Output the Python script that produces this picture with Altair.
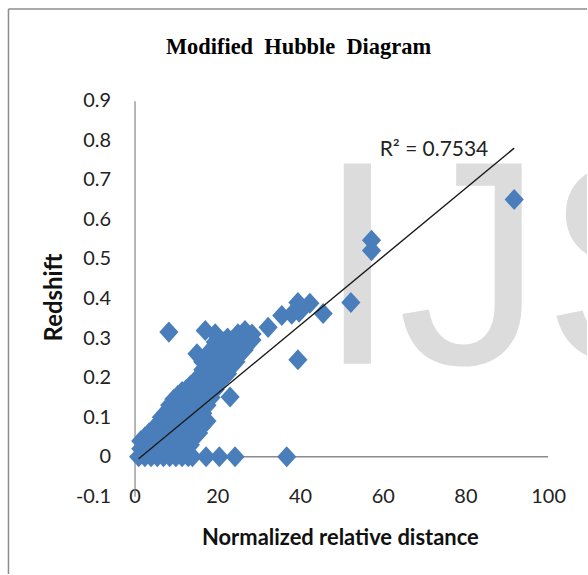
import altair as alt
import pandas as pd

# ---------------- data ----------------
chart_title = "Modified\u00a0 Hubble\u00a0 Diagram"
x_title = "Normalized relative distance"
y_title = "Redshift"
r2_label = "R\u00b2 = 0.7534"
watermark = "IJS"

# points lying on redshift = 0
zero_dist = [1.0, 2.5, 4.0, 5.5, 7.0, 8.5, 10.0, 11.5, 13.0, 14.0, 17.3, 20.5, 24.3, 36.8]
zero_z = [0.0] * len(zero_dist)

# dense cluster near the origin
cluster_dist = [
    1.5, 1.5,
    2.5, 2.5, 2.5,
    3.5, 3.5, 3.5,
    4.5, 4.5, 4.5,
    5.5, 5.5, 5.5,
    6.5, 6.5, 6.5, 6.5,
    7.5, 7.5, 7.5, 7.5,
    8.5, 8.5, 8.5, 8.5, 8.5,
    9.5, 9.5, 9.5, 9.5, 9.5,
    10.5, 10.5, 10.5, 10.5, 10.5, 10.5,
    11.5, 11.5, 11.5, 11.5, 11.5, 11.5,
    12.5, 12.5, 12.5, 12.5, 12.5, 12.5,
    13.5, 13.5, 13.5, 13.5, 13.5, 13.5,
    14.5, 14.5, 14.5, 14.5, 14.5, 14.5,
    15.5, 15.5, 15.5, 15.5, 15.5, 15.5,
    16.5, 16.5, 16.5, 16.5, 16.5, 16.5, 16.5,
    17.5, 17.5, 17.5, 17.5, 17.5, 17.5,
    18.5, 18.5, 18.5, 18.5, 18.5,
    19.5, 19.5, 19.5, 19.5, 19.5,
    20.5, 20.5, 20.5, 20.5,
    21.5, 21.5, 21.5, 21.5,
    22.5, 22.5, 22.5, 22.5,
    23.5, 23.5, 23.5,
    24.5, 24.5, 24.5,
    25.5, 25.5,
    26.5, 26.5,
]
cluster_z = [
    0.02, 0.04,
    0.02, 0.04, 0.05,
    0.015, 0.035, 0.06,
    0.02, 0.045, 0.07,
    0.025, 0.05, 0.08,
    0.02, 0.05, 0.075, 0.10,
    0.03, 0.06, 0.09, 0.11,
    0.025, 0.055, 0.085, 0.115, 0.13,
    0.03, 0.06, 0.09, 0.12, 0.145,
    0.025, 0.055, 0.085, 0.115, 0.145, 0.155,
    0.03, 0.06, 0.09, 0.12, 0.15, 0.165,
    0.02, 0.05, 0.08, 0.11, 0.14, 0.17,
    0.03, 0.06, 0.09, 0.12, 0.15, 0.18,
    0.05, 0.08, 0.11, 0.14, 0.17, 0.19,
    0.06, 0.09, 0.12, 0.15, 0.18, 0.20,
    0.08, 0.11, 0.14, 0.17, 0.20, 0.22, 0.24,
    0.09, 0.13, 0.16, 0.19, 0.22, 0.25,
    0.15, 0.18, 0.21, 0.24, 0.27,
    0.17, 0.20, 0.23, 0.26, 0.29,
    0.19, 0.22, 0.25, 0.28,
    0.20, 0.23, 0.26, 0.29,
    0.21, 0.24, 0.27, 0.30,
    0.23, 0.26, 0.29,
    0.24, 0.27, 0.30,
    0.26, 0.29,
    0.27, 0.30,
]

# scattered points away from the cluster
outer_dist = [8.3, 15.1, 17.1, 19.5, 21.9, 23.1, 25.0, 26.7, 28.4, 28.4, 32.3, 35.6,
              38.0, 39.5, 39.8, 40.5, 42.4, 45.6, 39.5, 52.3, 57.3, 57.3, 91.8]
outer_z = [0.315, 0.26, 0.319, 0.311, 0.277, 0.151, 0.311, 0.319, 0.31, 0.295, 0.327, 0.357,
           0.36, 0.39, 0.365, 0.375, 0.388, 0.362, 0.245, 0.39, 0.547, 0.521, 0.65]

# linear trend line end points
trend_dist = [1.0, 91.8]
trend_z = [-0.005, 0.78]

x_ticks = [0, 20, 40, 60, 80, 100]
y_ticks = [-0.1, 0.0, 0.1, 0.2, 0.3, 0.4, 0.5, 0.6, 0.7, 0.8, 0.9]
x_axis_line = [0, 100]

# ---------------- chart ----------------
points = pd.DataFrame({
    "dist": zero_dist + cluster_dist + outer_dist,
    "z": zero_z + cluster_z + outer_z,
})
trend = pd.DataFrame({"dist": trend_dist, "z": trend_z})
zline = pd.DataFrame({"dist": [x_axis_line[0]], "x1": [x_axis_line[1]], "z": [0.0]})
one = pd.DataFrame({"k": [0]})

FONT = "Lato"
W, H = 454, 397

xscale = alt.Scale(domain=[0, 109.4], nice=False, zero=False)
yscale = alt.Scale(domain=[-0.1, 0.9], nice=False, zero=False)

x_axis = alt.Axis(
    values=x_ticks, domain=False, ticks=False, tickSize=0, grid=False,
    labelBaseline="middle", labelPadding=0, labelFont=FONT, labelFontSize=20,
    labelColor="#222222", labelFlush=False, labelOverlap=False,
    title=x_title, titleFont=FONT, titleFontSize=22,
    titleFontWeight="bold", titleColor="#111111", titleX=206, titleY=48,
    titleBaseline="alphabetic", titleAlign="center",
)
y_axis = alt.Axis(
    values=y_ticks, domain=True, domainColor="#868686", domainWidth=1.2,
    ticks=False, tickSize=0, grid=False, labelPadding=24, labelFont=FONT,
    labelFontSize=20, labelColor="#222222", labelFlush=False, labelOverlap=False,
    labelExpr="datum.value == 0 ? '0' : (datum.value < 0 ? '-' + format(-datum.value, '.1f') : format(datum.value, '.1f'))",
    title=y_title, titleFont=FONT, titleFontSize=24, titleFontWeight="bold",
    titleColor="#111111", titleX=-80, titleY=197, titleAngle=270,
    titleBaseline="middle", titleAlign="center",
)

X = alt.X("dist:Q", scale=xscale, axis=x_axis)
Y = alt.Y("z:Q", scale=yscale, axis=y_axis)

frame_left = alt.Chart(one).mark_rule(color="#8c8c8c", strokeWidth=1.5).encode(
    x=alt.value(-126.5), y=alt.value(-92), y2=alt.value(475)
)
frame_top = alt.Chart(one).mark_rule(color="#8c8c8c", strokeWidth=1.5).encode(
    x=alt.value(-126.5), x2=alt.value(454), y=alt.value(-92)
)

wm = alt.Chart(one).mark_text(
    text=watermark, font="Liberation Sans", fontSize=292, color="#dcdcdc",
    align="left", baseline="alphabetic", clip=True,
).encode(x=alt.value(183), y=alt.value(264))

zero_rule = alt.Chart(zline).mark_rule(color="#8c8c8c", strokeWidth=1.5).encode(
    x=X, x2="x1:Q", y=Y,
)

scatter = alt.Chart(points).mark_point(
    shape="M0,-1.1L1,0L0,1.1L-1,0Z", filled=True, size=370,
    color="#4A7EBB", opacity=1,
).encode(x=X, y=Y)

trend_line = alt.Chart(trend).mark_line(color="#1a1a1a", strokeWidth=1.4).encode(
    x=X, y=Y,
)

r2 = alt.Chart(one).mark_text(
    text=r2_label, font=FONT, fontSize=21, color="#222222",
    align="left", baseline="alphabetic",
).encode(x=alt.value(246), y=alt.value(56))

title = alt.Chart(one).mark_text(
    text=chart_title, font="Liberation Serif", fontSize=22.5, fontWeight="bold",
    color="#000000", align="center", baseline="alphabetic",
).encode(x=alt.value(164.5), y=alt.value(-47))

chart = alt.layer(
    frame_left, frame_top, wm, zero_rule, scatter, trend_line, r2, title
).properties(
    width=W, height=H,
    padding={"left": 7, "top": 7, "right": 0, "bottom": 0},
    background="white",
).configure_view(
    strokeWidth=0
).configure_axis(
    labelOverlap=False, labelFlush=False
)

chart.save("out.html", embed_options={"renderer": "svg", "actions": False})
